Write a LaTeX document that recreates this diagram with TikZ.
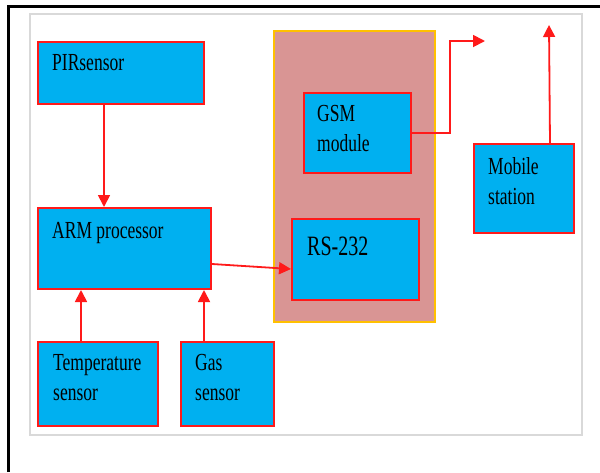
\documentclass[tikz,border=0pt]{standalone}
\usepackage{graphicx}
\usepackage{fontspec}
\setmainfont{Liberation Serif}
\usetikzlibrary{arrows.meta,positioning}

\definecolor{boxblue}{HTML}{00B0F0}
\definecolor{boxred}{HTML}{FF1A1A}
\definecolor{ctrlpink}{HTML}{D99594}
\definecolor{ctrlgold}{HTML}{FFC000}
\definecolor{framegray}{HTML}{D9D9D9}

% text in the source is stretched vertically
\newcommand{\tallt}[1]{\scalebox{1}[1.4]{\begin{tabular}[t]{@{}l@{}}#1\end{tabular}}}

\begin{document}
\begin{tikzpicture}[
    x=1pt, y=-1pt,
    every node/.style={font=\fontsize{17.5}{22}\selectfont},
    blk/.style={rectangle, draw=boxred, fill=boxblue, line width=2pt,
                anchor=north west, inner sep=0pt},
    ctr/.style={rectangle, draw=ctrlgold, fill=ctrlpink, line width=1.6pt,
                anchor=north west, inner sep=0pt},
    txt/.style={anchor=base west, inner sep=0pt},
    e/.style={draw=boxred, line width=1.8pt, -{Triangle[length=12pt, width=12pt]}},
  ]
  \useasboundingbox (0,0) rectangle (600,472);
  % frame
  \draw[black, line width=3pt] (8.5,472) -- (8.5,6.5) -- (600,6.5);
  \draw[framegray, line width=1.6pt] (30,14) rectangle (582,435);

  % controller area
  \node[ctr, minimum width=161, minimum height=291] (ctrl) at (273,30) {};

  % blocks
  \node[blk, minimum width=166, minimum height=62] (pir) at (37,41) {};
  \node[blk, minimum width=173, minimum height=81] (arm) at (37,207) {};
  \node[blk, minimum width=120, minimum height=84] (temp) at (37,341) {};
  \node[blk, minimum width=93, minimum height=84] (gas) at (180,341) {};
  \node[blk, minimum width=107, minimum height=80] (gsm) at (303,92) {};
  \node[blk, minimum width=127, minimum height=81] (rs) at (291,218) {};
  \node[blk, minimum width=100, minimum height=89] (mob) at (473,143) {};

  % labels
  \node[txt] (pirt) at (52,70) {\tallt{PIRsensor}};
  \node[txt] (armt) at (52,238) {\tallt{ARM processor}};
  \node[txt] (tempt) at (53,370) {\tallt{Temperature\\sensor}};
  \node[txt] (gast) at (195,370) {\tallt{Gas\\sensor}};
  \node[txt] (gsmt) at (317,121) {\tallt{GSM\\module}};
  \node[txt, font=\fontsize{20}{24}\selectfont] (rst) at (307,255) {\tallt{RS-232}};
  \node[txt] (mobt) at (488,174) {\tallt{Mobile\\station}};

  \coordinate (gsmout) at (485,41);
  \coordinate (mobout) at (549,25);

  % connectors
  \draw[e] ([xshift=-17pt]pir.south) -- ([xshift=-17pt]pir.south |- arm.north);
  \draw[e] ([xshift=-17pt]temp.north) -- ([xshift=-17pt]temp.north |- arm.south);
  \draw[e] ([xshift=-23.5pt]gas.north) -- ([xshift=-23.5pt]gas.north |- arm.south);
  \draw[e] ([yshift=-15.5pt]arm.east) -- ([yshift=-9.5pt]rs.west);
  \draw[e] (gsm.east) -- ++(38,0) |- (gsmout);
  \draw[e] ([xshift=26pt]mob.north) -- (mobout);
\end{tikzpicture}
\end{document}
